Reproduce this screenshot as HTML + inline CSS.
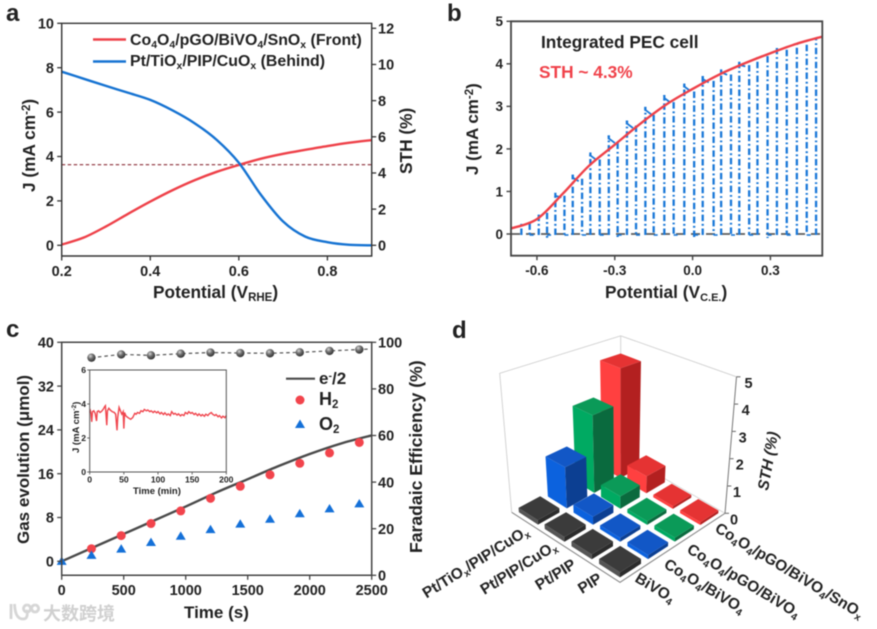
<!DOCTYPE html>
<html lang="en">
<head>
<meta charset="utf-8">
<title>Integrated PEC cell figure</title>
<style>
html,body{margin:0;padding:0;background:#fff;width:877px;height:629px;overflow:hidden}
svg{display:block;filter:blur(0.45px)}
text{font-family:"Liberation Sans","Noto Sans CJK SC",sans-serif;font-weight:bold;fill:#222}
</style>
</head>
<body>
<svg id="fig" xmlns="http://www.w3.org/2000/svg" width="877" height="629" viewBox="0 0 877 629">
<defs>
<radialGradient id="sphere" cx="38%" cy="32%" r="70%">
<stop offset="0%" stop-color="#d8d8d8"/><stop offset="45%" stop-color="#6f6f6f"/><stop offset="100%" stop-color="#2e2e2e"/>
</radialGradient>
</defs>

<!-- Panel letters -->
<text x="6" y="21" font-size="24">a</text>
<text x="447" y="21" font-size="24">b</text>
<text x="6" y="337" font-size="24">c</text>
<text x="452" y="338" font-size="24">d</text>

<!-- Panel a text -->
<text x="153" y="298" font-size="17.3">Potential (V<tspan dy="3" font-size="11.5">RHE</tspan><tspan dy="-3">)</tspan></text>
<text transform="translate(35,192) rotate(-90)" font-size="17.3">J (mA cm<tspan dy="-5" font-size="11.5">-2</tspan><tspan dy="5">)</tspan></text>
<text transform="translate(412,174) rotate(-90)" font-size="17.3">STH (%)</text>
<text x="130" y="45" font-size="15.9">Co<tspan dy="3" font-size="10.5">4</tspan><tspan dy="-3">O</tspan><tspan dy="3" font-size="10.5">4</tspan><tspan dy="-3">/pGO/BiVO</tspan><tspan dy="3" font-size="10.5">4</tspan><tspan dy="-3">/SnO</tspan><tspan dy="3" font-size="10.5">x</tspan><tspan dy="-3"> (Front)</tspan></text>
<text x="130" y="66" font-size="15.9">Pt/TiO<tspan dy="3" font-size="10.5">x</tspan><tspan dy="-3">/PIP/CuO</tspan><tspan dy="3" font-size="10.5">x</tspan><tspan dy="-3"> (Behind)</tspan></text>

<!-- Panel b text -->
<text x="605" y="298" font-size="17.3">Potential (V<tspan dy="3" font-size="11">C.E.</tspan><tspan dy="-3">)</tspan></text>
<text transform="translate(478,175) rotate(-90)" font-size="17">J (mA cm<tspan dy="-5" font-size="11.5">-2</tspan><tspan dy="5">)</tspan></text>
<text x="541" y="48" font-size="17.3">Integrated PEC cell</text>
<text x="539" y="78" font-size="17.3" style="fill:#f0424a">STH ~ 4.3%</text>

<!-- Panel c text -->
<text x="184" y="618" font-size="17">Time (s)</text>
<text transform="translate(29,544) rotate(-90)" font-size="17">Gas evolution (μmol)</text>
<text transform="translate(422,553) rotate(-90)" font-size="17.6">Faradaic Efficiency (%)</text>
<text x="319" y="384" font-size="17">e<tspan dy="-5" font-size="10.5">-</tspan><tspan dy="5">/2</tspan></text>
<text x="319" y="405" font-size="18">H<tspan dy="3" font-size="11.5">2</tspan></text>
<text x="319" y="430" font-size="18">O<tspan dy="3" font-size="11.5">2</tspan></text>
<text x="133" y="494" font-size="9.5">Time (min)</text>
<text transform="translate(79,453) rotate(-90)" font-size="9.5">J (mA cm<tspan dy="-3" font-size="6.5">-2</tspan><tspan dy="3">)</tspan></text>

<!-- Panel d text -->
<text transform="translate(768,491) rotate(-80)" font-size="15.5" style="font-style:italic">STH (%)</text>
<text text-anchor="end" transform="translate(530,534) rotate(-32)" font-size="15.4">Pt/TiO<tspan dy="3" font-size="10">x</tspan><tspan dy="-3">/PIP/CuO</tspan><tspan dy="3" font-size="10">x</tspan></text>
<text text-anchor="end" transform="translate(558,549) rotate(-32)" font-size="15.4">Pt/PIP/CuO<tspan dy="3" font-size="10">x</tspan></text>
<text text-anchor="end" transform="translate(577,567) rotate(-32)" font-size="15.4">Pt/PIP</text>
<text text-anchor="end" transform="translate(603,581) rotate(-32)" font-size="15.4">PIP</text>
<text transform="translate(634,581) rotate(31)" font-size="15.4">BiVO<tspan dy="3" font-size="10">4</tspan></text>
<text transform="translate(663,567) rotate(31)" font-size="15.4">Co<tspan dy="3" font-size="10">4</tspan><tspan dy="-3">O</tspan><tspan dy="3" font-size="10">4</tspan><tspan dy="-3">/BiVO</tspan><tspan dy="3" font-size="10">4</tspan></text>
<text transform="translate(686,552) rotate(31)" font-size="15.4">Co<tspan dy="3" font-size="10">4</tspan><tspan dy="-3">O</tspan><tspan dy="3" font-size="10">4</tspan><tspan dy="-3">/pGO/BiVO</tspan><tspan dy="3" font-size="10">4</tspan></text>
<text transform="translate(714,531) rotate(31)" font-size="15.4">Co<tspan dy="3" font-size="10">4</tspan><tspan dy="-3">O</tspan><tspan dy="3" font-size="10">4</tspan><tspan dy="-3">/pGO/BiVO</tspan><tspan dy="3" font-size="10">4</tspan><tspan dy="-3">/SnO</tspan><tspan dy="3" font-size="10">x</tspan></text>

<!-- Watermark -->
<g>
<path d="M11 604 V619 M14.5 604 C15 613 17 619 23 619 C28 619 28 613 26 610 M27 605 a3.5 3.5 0 1 0 .1 0 M35 605 a3.5 3.5 0 1 0 .1 0" fill="none" stroke="#d6d6d6" stroke-width="2.8"/>
<text x="43" y="620" font-size="18" style="fill:#d0d0d0">大数跨境</text>
</g>
</svg>

<script>
// ---------- Panel a data ----------
const aPotential = [0.2,0.25,0.3,0.35,0.4,0.45,0.5,0.55,0.6,0.65,0.7,0.75,0.8,0.85,0.9];
const aFrontJ = [0.03,0.35,0.85,1.42,1.97,2.48,2.93,3.31,3.62,3.9,4.12,4.3,4.47,4.62,4.74];
const aBehindJ = [7.82,7.5,7.18,6.87,6.55,6.08,5.5,4.75,3.72,2.27,1.07,0.39,0.14,0.02,0];
const aReferenceJ = 3.63;
const aXTicks = [0.2,0.4,0.6,0.8];
const aYTicks = [0,2,4,6,8,10];
const aRightTicks = [0,2,4,6,8,10,12];

// ---------- Panel b data ----------
const bPotential = [-0.7,-0.6,-0.5,-0.4,-0.3,-0.2,-0.1,0,0.1,0.2,0.3,0.4,0.5];
const bLightJ = [0.13,0.35,0.95,1.6,2.1,2.6,3.05,3.41,3.74,4.01,4.25,4.47,4.64];
const bChopOnV = [-0.66,-0.593,-0.529,-0.462,-0.394,-0.323,-0.253,-0.182,-0.109,-0.032,0.039,0.11,0.18,0.25,0.325,0.402,0.476];
const bChopOnJ = [0.27,0.5,0.92,1.3,1.8,2.2,2.55,2.87,3.15,3.42,3.62,3.8,4.0,4.18,4.35,4.48,4.58];
const bChopOffV = [-0.628,-0.561,-0.494,-0.426,-0.358,-0.289,-0.218,-0.15,-0.073,0.006,0.081,0.148,0.218,0.289,0.363,0.44];
const bChopOffJ = [0.25,0.5,0.9,1.3,1.75,2.15,2.55,2.8,3.1,3.35,3.6,3.75,3.97,4.18,4.33,4.45];
const bOvershoot = [0,1,2,4,5,5,5,5,5,5,4,3,2,1,1,1,0];
const bXTicks = [-0.6,-0.3,0,0.3];
const bYTicks = [0,1,2,3,4,5];

// ---------- Panel c data ----------
const cTime = [0,240,480,720,960,1200,1440,1680,1920,2160,2400];
const cH2 = [0,2.3,4.7,6.9,9.2,11.5,13.7,15.8,17.9,19.8,21.7];
const cO2 = [0,1.1,2.25,3.45,4.6,5.8,6.8,7.7,8.7,9.6,10.5];
const cElectronTime = [0,250,500,750,1000,1250,1500,1750,2000,2250,2500];
const cElectron = [0,2.5,5,7.5,10,12.6,15,17.4,19.6,21.5,23];
const cFeTime = [240,480,720,960,1200,1440,1680,1920,2160,2400];
const cFe = [93.4,94.8,94.4,95.1,95.6,95.4,95.3,95.7,96.3,96.9];
const cXTicks = [0,500,1000,1500,2000,2500];
const cYTicks = [0,8,16,24,32,40];
const cRightTicks = [0,20,40,60,80,100];

// ---------- Inset data ----------
const insetTime = [0,1,2,3,4,6,8,10,11,13,15,17,20,22,23,25,26,28,30,33,36,38,40,41,43,45,47,49,50,51,53,56,60,63,66,68,70,73,75,78,80,83,85,88,90,93,95,98,100,103,105,108,110,113,115,118,120,123,125,128,130,133,135,138,140,143,145,148,150,153,155,158,160,163,165,168,170,173,175,178,180,183,185,188,190,193,195,198,200];
const insetJ = [3.5,3.6,3.4,2.95,3.55,3.6,3.45,3.0,3.55,3.6,3.5,3.55,3.7,3.85,3.9,2.75,3.6,3.75,3.65,3.55,3.5,3.4,2.45,3.2,3.8,3.6,3.4,3.55,2.55,3.5,3.3,3.2,3.1,3.2,3.45,3.4,3.5,3.45,3.6,3.55,3.68,3.6,3.65,3.55,3.6,3.5,3.58,3.48,3.55,3.42,3.5,3.38,3.48,3.35,3.42,3.32,3.55,3.4,3.45,3.35,3.42,3.3,3.38,3.32,3.5,3.42,3.55,3.45,3.5,3.38,3.45,3.32,3.42,3.3,3.38,3.28,3.4,3.32,3.42,3.5,3.4,3.32,3.38,3.25,3.32,3.18,3.28,3.2,3.32];
const insetXTicks = [0,50,100,150,200];
const insetYTicks = [0,2,4,6];

// ---------- Panel d data ----------
const dRows = ['PIP','Pt/PIP','Pt/PIP/CuOx','Pt/TiOx/PIP/CuOx'];
const dCols = ['BiVO4','Co4O4/BiVO4','Co4O4/pGO/BiVO4','Co4O4/pGO/BiVO4/SnOx'];
const dSthBiVO4 = [0.16,0.16,0.16,0.16];
const dSthCoBiVO4 = [0.13,0.13,0.28,1.5];
const dSthPgoBiVO4 = [0.13,0.13,0.45,2.95];
const dSthSnOx = [0.1,0.1,0.65,4.35];
const dZTicks = [0,1,2,3,4,5];

// ---------- helpers ----------
const NS = 'http://www.w3.org/2000/svg';
const svg = document.getElementById('fig');

function linear(d0, d1, r0, r1) {
  return v => r0 + (v - d0) * (r1 - r0) / (d1 - d0);
}
function addPath(d, stroke, width, dash, fill, name) {
  const el = document.createElementNS(NS, 'path');
  el.setAttribute('d', d);
  el.setAttribute('stroke', stroke);
  el.setAttribute('stroke-width', width);
  if (dash) el.setAttribute('stroke-dasharray', dash);
  el.setAttribute('fill', fill || 'none');
  
  
  svg.appendChild(el);
  return el;
}
function addLabel(x, y, str, size, anchor, name) {
  const el = document.createElementNS(NS, 'text');
  el.setAttribute('x', x);
  el.setAttribute('y', y);
  el.setAttribute('font-size', size);
  el.setAttribute('text-anchor', anchor);
  el.textContent = str;
  
  
  svg.appendChild(el);
  return el;
}
function addCircle(x, y, r, fill, name) {
  const el = document.createElementNS(NS, 'circle');
  el.setAttribute('cx', x);
  el.setAttribute('cy', y);
  el.setAttribute('r', r);
  el.setAttribute('fill', fill);
  
  
  svg.appendChild(el);
  return el;
}
function smoothPath(xs, ys) {
  let d = 'M' + xs[0] + ' ' + ys[0];
  for (let i = 0; i < xs.length - 1; i++) {
    const i0 = Math.max(i - 1, 0), i3 = Math.min(i + 2, xs.length - 1);
    const c1x = xs[i] + (xs[i + 1] - xs[i0]) / 6, c1y = ys[i] + (ys[i + 1] - ys[i0]) / 6;
    const c2x = xs[i + 1] - (xs[i3] - xs[i]) / 6, c2y = ys[i + 1] - (ys[i3] - ys[i]) / 6;
    d += 'C' + c1x + ' ' + c1y + ' ' + c2x + ' ' + c2y + ' ' + xs[i + 1] + ' ' + ys[i + 1];
  }
  return d;
}
function polyPath(xs, ys) {
  return xs.map((x, i) => (i ? 'L' : 'M') + x + ' ' + ys[i]).join('');
}
function frame(x0, y0, x1, y1, color, width, name) {
  addPath('M' + x0 + ' ' + y0 + 'H' + x1 + 'V' + y1 + 'H' + x0 + 'Z', color, width, null, 'none', name);
}
function xAxis(ticks, sx, y, len, yLabel, size, fmt, color, w, prefix) {
  ticks.forEach(t => {
    addPath('M' + sx(t) + ' ' + y + 'v' + len, color, w, null, 'none', prefix + '-tick');
    addLabel(sx(t), yLabel, fmt(t), size, 'middle', prefix + '-tick-label');
  });
}
function yAxis(ticks, sy, x, len, xLabel, size, anchor, color, w, prefix) {
  ticks.forEach(t => {
    addPath('M' + x + ' ' + sy(t) + 'h' + len, color, w, null, 'none', prefix + '-tick');
    addLabel(xLabel, sy(t) + size * 0.36, String(t), size, anchor, prefix + '-tick-label');
  });
}

// ---------- Panel a ----------
(function () {
  const sx = linear(0.2, 0.9, 61.7, 371.7);
  const sy = linear(0, 10, 245.3, 23.3);
  const sr = linear(0, 12, 245.3, 28.3);
  addPath('M61.7 ' + sy(aReferenceJ) + 'H371.7', '#8c2f39', 1.1, '3.5 2.5', 'none', 'a-reference-line');
  addPath(smoothPath(aPotential.map(sx), aFrontJ.map(sy)), '#ee4149', 2.4, null, 'none', 'a-front-curve');
  addPath(smoothPath(aPotential.map(sx), aBehindJ.map(sy)), '#1673d2', 2.4, null, 'none', 'a-behind-curve');
  frame(61.7, 23.3, 371.7, 256, '#333', 1.4, 'a-plot-frame');
  xAxis(aXTicks, sx, 256, 4.5, 276, 14.5, t => t.toFixed(1), '#333', 1.3, 'a-x');
  yAxis(aYTicks, sy, 61.7, -4.5, 54, 14.5, 'end', '#333', 1.3, 'a-y');
  yAxis(aRightTicks, sr, 371.7, 4.5, 378, 14.5, 'start', '#333', 1.3, 'a-right');
  addPath('M93 39.5H126', '#ee4149', 2.4, null, 'none', 'a-legend-front-line');
  addPath('M93 61.5H126', '#1673d2', 2.4, null, 'none', 'a-legend-behind-line');
})();

// ---------- Panel b ----------
(function () {
  const sx = linear(-0.7, 0.5, 511, 822.3);
  const sy = linear(0, 5, 234, 21.3);
  const blue = '#1a78d8';
  const dash = '6.5 2.8 1.8 2.8';
  addPath('M511 234H822', '#5a5a5a', 1.7, '9 6', 'none', 'b-dark-current-line');
  bChopOnV.forEach((v, i) => {
    const top = sy(bChopOnJ[i]);
    const over = bOvershoot[i];
    addPath('M' + sx(v) + ' 235V' + (top - over), blue, 2.3, dash, 'none', 'b-chop-rise');
    if (over > 1) {
      addPath('M' + sx(v) + ' ' + (top - over) + 'V' + (top - over + 4), blue, 2.2, null, 'none', 'b-chop-peak');
      addPath('M' + sx(v) + ' ' + (top - over + 3) + 'L' + (sx(v) + 6) + ' ' + (top + 2.5), blue, 1.8, null, 'none', 'b-chop-spike');
    }
  });
  bChopOffV.forEach((v, i) => {
    addPath('M' + sx(v) + ' ' + sy(bChopOffJ[i]) + 'V' + (234 + (i % 4 === 1 ? 4 : 1)), blue, 2.3, dash, 'none', 'b-chop-fall');
    addPath('M' + sx(v) + ' 235H' + (sx(v) + 4), blue, 1.6, null, 'none', 'b-chop-dark');
  });
  addPath(smoothPath(bPotential.map(sx), bLightJ.map(sy)), '#ee4149', 2.4, null, 'none', 'b-light-curve');
  frame(511, 21.3, 822.3, 255.7, '#444', 1.8, 'b-plot-frame');
  xAxis(bXTicks, sx, 255.7, 4.5, 275, 13.5, t => t.toFixed(1), '#444', 1.4, 'b-x');
  yAxis(bYTicks, sy, 511, -4.5, 503, 13.5, 'end', '#444', 1.4, 'b-y');
})();

// ---------- Panel c ----------
(function () {
  const sx = linear(0, 2500, 61.7, 371.7);
  const sy = linear(0, 40, 561.3, 342.3);
  const sr = linear(0, 100, 575.3, 342.3);
  addPath(smoothPath(cElectronTime.map(sx), cElectron.map(sy)), '#4a4a4a', 2.4, null, 'none', 'c-electron-curve');
  addPath(polyPath(cFeTime.map(sx).concat([370]), cFe.map(sr).concat([sr(97.1)])), '#555', 1.2, '3.5 3', 'none', 'c-faradaic-line');
  cFeTime.forEach((t, i) => addCircle(sx(t), sr(cFe[i]), 4.2, 'url(#sphere)', 'c-faradaic-point'));
  cTime.forEach((t, i) => { if (i > 0) addCircle(sx(t), sy(cH2[i]), 4.5, '#f2444c', 'c-h2-point'); });
  cTime.forEach((t, i) => {
    const x = sx(t), y = sy(cO2[i]);
    addPath('M' + x + ' ' + (y - 4.8) + 'L' + (x + 5) + ' ' + (y + 3.6) + 'H' + (x - 5) + 'Z', 'none', 0, null, '#1470d8', 'c-o2-point');
  });
  frame(61.7, 342.3, 371.7, 575.3, '#444', 1.5, 'c-plot-frame');
  xAxis(cXTicks, sx, 575.3, 4.5, 595, 14.5, t => String(t), '#444', 1.3, 'c-x');
  yAxis(cYTicks, sy, 61.7, -4.5, 54, 14.5, 'end', '#444', 1.3, 'c-y');
  yAxis(cRightTicks, sr, 371.7, 4.5, 378, 14.5, 'start', '#444', 1.3, 'c-right');
  addPath('M286 378.7H315', '#4a4a4a', 2.2, null, 'none', 'c-legend-electron-line');
  addCircle(300, 400, 4.5, '#f2444c', 'c-legend-h2-marker');
  addPath('M300 419.5L305 428H295Z', 'none', 0, null, '#1470d8', 'c-legend-o2-marker');

  // inset
  const ix = linear(0, 200, 89.7, 226.3);
  const iy = linear(0, 6, 472, 370);
  addPath(polyPath(insetTime.map(ix), insetJ.map(iy)), '#f0454d', 1.4, null, 'none', 'inset-current-trace');
  frame(89.7, 370, 226.3, 472, '#555', 1, 'inset-plot-frame');
  xAxis(insetXTicks, ix, 472, 2.5, 482.5, 8.6, t => String(t), '#555', 0.9, 'inset-x');
  yAxis(insetYTicks, iy, 89.7, -2.5, 86, 8.6, 'end', '#555', 0.9, 'inset-y');
})();

// ---------- Panel d ----------
(function () {
  const F = [620, 582.3], L = [511.7, 512.3], B = [620.7, 453.3], R = [725, 513.3];
  const sxq = F[0] - L[0] + B[0] - R[0], syq = F[1] - L[1] + B[1] - R[1];
  const dx1 = L[0] - B[0], dx2 = R[0] - B[0], dy1 = L[1] - B[1], dy2 = R[1] - B[1];
  const den = dx1 * dy2 - dx2 * dy1;
  const g = (sxq * dy2 - dx2 * syq) / den, h = (dx1 * syq - sxq * dy1) / den;
  const a = L[0] - F[0] + g * L[0], b = R[0] - F[0] + h * R[0];
  const d = L[1] - F[1] + g * L[1], e = R[1] - F[1] + h * R[1];
  function P(u, v, z) {
    const w = g * u + h * v + 1;
    const bx = (a * u + b * v + F[0]) / w, by = (d * u + e * v + F[1]) / w;
    const s = (1 - u) * (1 - v) * 31.7 + u * (1 - v) * 27.8 + u * v * 23.5 + (1 - u) * v * 27.3;
    return [bx + (bx - B[0]) * 0.022 * z, by - s * z];
  }
  function poly(pts) {
    return 'M' + pts.map(p => p[0].toFixed(1) + ' ' + p[1].toFixed(1)).join('L') + 'Z';
  }
  function open(pts) {
    return poly(pts).replace('Z', '');
  }
  // walls and floor edges
  const wall = '#cfcfcf';
  addPath(open([P(1, 0, 0), P(1, 0, 5), P(1, 1, 5), P(0, 1, 5)]), wall, 0.9, null, 'none', 'd-back-wall-outline');
  addPath(open([P(1, 1, 0), P(1, 1, 5)]), wall, 0.9, null, 'none', 'd-back-wall-edge');
  addPath(open([P(0, 1, 0), P(1, 1, 0)]), wall, 0.8, null, 'none', 'd-floor-back-edge');
  addPath(open([P(1, 0, 0), P(0, 0, 0), P(0, 1, 0)]), '#8a8a8a', 1.1, null, 'none', 'd-floor-front-edge');

  // z axis
  dZTicks.forEach(t => {
    const p = P(0, 1, t);
    addPath('M' + p[0] + ' ' + p[1] + 'h4', '#666', 1, null, 'none', 'd-z-tick');
    addLabel(p[0] + 5 + t * 0.6, p[1] + 11, String(t), 14.5, 'start', 'd-z-tick-label');
  });
  addPath(open([P(0, 1, 0), P(0, 1, 5)]), '#777', 1, null, 'none', 'd-z-axis-line');

  const dSth = [dSthBiVO4, dSthCoBiVO4, dSthPgoBiVO4, dSthSnOx];
  const palette = [
    { top: '#3b3b3b', left: '#555555', right: '#2b2b2b' },
    { top: '#1257c6', left: '#0c62de', right: '#0c3f92' },
    { top: '#0b9a58', left: '#00aa62', right: '#0a6a3e' },
    { top: '#e53333', left: '#ff4040', right: '#b32020' }
  ];
  const order = [];
  for (let iu = 0; iu < 4; iu++) for (let iv = 0; iv < 4; iv++) order.push([iu, iv]);
  order.sort((p, q) => (q[0] + q[1]) - (p[0] + p[1]));
  order.forEach(([iu, iv]) => {
    const z = dSth[iv][iu];
    const u0 = (iu + 0.13) / 4, u1 = (iu + 0.87) / 4, v0 = (iv + 0.13) / 4, v1 = (iv + 0.87) / 4;
    const c = palette[iv];
    addPath(poly([P(u1, v0, 0), P(u0, v0, 0), P(u0, v0, z), P(u1, v0, z)]), 'none', 0, null, c.left, 'd-bar-left-face');
    addPath(poly([P(u0, v0, 0), P(u0, v1, 0), P(u0, v1, z), P(u0, v0, z)]), 'none', 0, null, c.right, 'd-bar-right-face');
    addPath(poly([P(u0, v0, z), P(u1, v0, z), P(u1, v1, z), P(u0, v1, z)]), 'none', 0, null, c.top, 'd-bar-top-face');
  });
})();
</script>
</body>
</html>
